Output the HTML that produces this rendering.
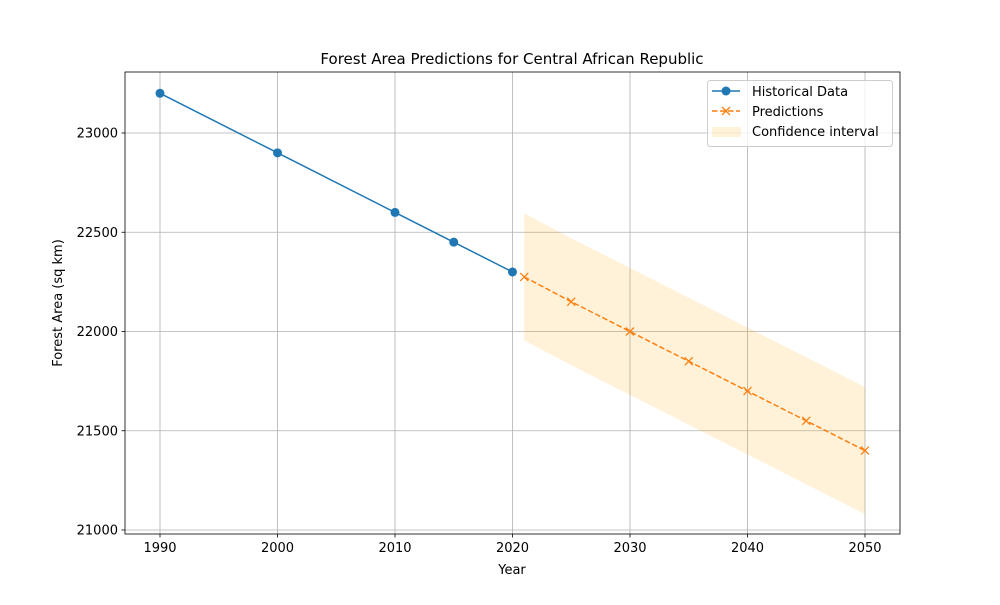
<!DOCTYPE html>
<html><head><meta charset="utf-8"><style>
body{margin:0;background:#fff;}
svg text{font-family:"DejaVu Sans","Liberation Sans",sans-serif;}
</style></head><body>
<svg id="c" width="1000" height="600" xmlns="http://www.w3.org/2000/svg"></svg>
<script>
const histYears=[1990,2000,2010,2015,2020];
const histValues=[23200,22900,22600,22450,22300];
const predYears=[2021,2025,2030,2035,2040,2045,2050];
const predValues=[22275,22150,22000,21850,21700,21550,21400];
const ciUpper=[22595,22470,22320,22170,22020,21870,21720];
const ciLower=[21955,21830,21680,21530,21380,21230,21080];
const xTicks=[1990,2000,2010,2020,2030,2040,2050];
const yTicks=[21000,21500,22000,22500,23000];

const L=125,R=900,T=72,B=534;
const xs=v=>160+(v-1990)*705/60;
const ys=v=>133+(23000-v)*397/2000;
const svg=document.getElementById('c');
const NS='http://www.w3.org/2000/svg';
function mk(tag,attrs,parent){const e=document.createElementNS(NS,tag);for(const k in attrs)e.setAttribute(k,attrs[k]);(parent||svg).appendChild(e);return e;}

// grid
const grid=mk('g',{});


xTicks.forEach(t=>{mk('line',{x1:xs(t),x2:xs(t),y1:T,y2:B,stroke:'#b0b0b0','stroke-width':0.8},grid);});
yTicks.forEach(t=>{mk('line',{x1:L,x2:R,y1:ys(t),y2:ys(t),stroke:'#b0b0b0','stroke-width':0.8},grid);});

// CI band
let pts=predYears.map((y,i)=>xs(y)+','+ys(ciUpper[i]));
for(let i=predYears.length-1;i>=0;i--)pts.push(xs(predYears[i])+','+ys(ciLower[i]));
const band=mk('polygon',{points:pts.join(' '),fill:'#ffa500','fill-opacity':0.15});



// historical
const hl=mk('polyline',{points:histYears.map((y,i)=>xs(y)+','+ys(histValues[i])).join(' '),fill:'none',stroke:'#1f77b4','stroke-width':1.5});


histYears.forEach((y,i)=>{const c=mk('circle',{cx:xs(y),cy:ys(histValues[i]),r:4.5,fill:'#1f77b4'});

});

// predictions
const pl=mk('polyline',{points:predYears.map((y,i)=>xs(y)+','+ys(predValues[i])).join(' '),fill:'none',stroke:'#ff7f0e','stroke-width':1.5,'stroke-dasharray':'5.5,2.5'});


predYears.forEach((y,i)=>{const x=xs(y),yy=ys(predValues[i]);const g=mk('path',{d:`M${x-4},${yy-4}L${x+4},${yy+4}M${x-4},${yy+4}L${x+4},${yy-4}`,stroke:'#ff7f0e','stroke-width':1.3});

});

// axes frame
const fr=mk('rect',{x:L,y:T,width:R-L,height:B-T,fill:'none',stroke:'#000','stroke-width':0.8});



xTicks.forEach(t=>{mk('line',{x1:xs(t),x2:xs(t),y1:B,y2:B+3.5,stroke:'#000','stroke-width':0.8});
const tx=mk('text',{x:xs(t),y:B+18,'text-anchor':'middle','font-size':13});tx.textContent=t;

});
yTicks.forEach(t=>{mk('line',{x1:L-3.5,x2:L,y1:ys(t),y2:ys(t),stroke:'#000','stroke-width':0.8});
const tx=mk('text',{x:L-7,y:ys(t)+4.5,'text-anchor':'end','font-size':13});tx.textContent=t;

});
</script>
<svg width="1000" height="600" style="position:absolute;left:0;top:0" xmlns="http://www.w3.org/2000/svg">
<text x="512" y="64" text-anchor="middle" font-size="15">Forest Area Predictions for Central African Republic</text>
<text x="512" y="574" text-anchor="middle" font-size="13">Year</text>
<text x="62" y="303" text-anchor="middle" font-size="13" transform="rotate(-90 62 303)">Forest Area (sq km)</text>
<g>
<rect x="707.5" y="80.5" width="185" height="66" rx="3" fill="#fff" fill-opacity="0.8" stroke="#ccc"/>
<line x1="712" x2="740" y1="91" y2="91" stroke="#1f77b4" stroke-width="1.5"/>
<circle cx="726" cy="91" r="4.5" fill="#1f77b4"/>
<text x="752" y="96" font-size="13">Historical Data</text>
<line x1="712" x2="740" y1="111" y2="111" stroke="#ff7f0e" stroke-width="1.5" stroke-dasharray="5.5,2.5"/>
<path d="M722,107L730,115M722,115L730,107" stroke="#ff7f0e" stroke-width="1.3"/>
<text x="752" y="116" font-size="13">Predictions</text>
<rect x="712" y="127" width="29" height="10" fill="#ffa500" fill-opacity="0.15"/>
<text x="752" y="136" font-size="13">Confidence interval</text>
</g>
</svg>
</body></html>
